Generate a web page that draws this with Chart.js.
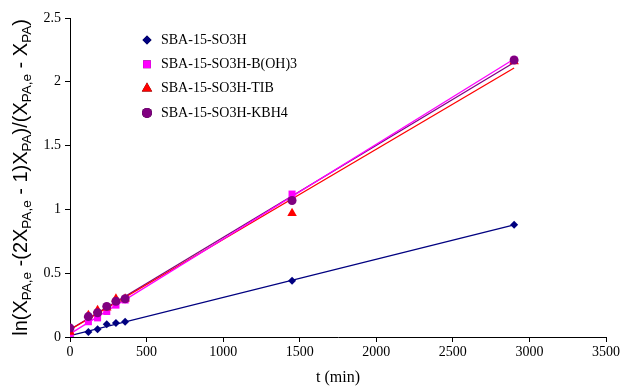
<!DOCTYPE html>
<html>
<head>
<meta charset="utf-8">
<script src="https://cdn.jsdelivr.net/npm/chart.js@4/dist/chart.umd.min.js"></script>
<style>
  body { margin: 0; background: #fff; }
  canvas { display: block; }
</style>
</head>
<body>
<canvas id="kineticsChart" width="624" height="387"></canvas>
<script>
// time points (min)
const times = [0, 120, 180, 240, 300, 360, 1450, 2900];

const seriesNames = ['SBA-15-SO3H', 'SBA-15-SO3H-B(OH)3', 'SBA-15-SO3H-TIB', 'SBA-15-SO3H-KBH4'];
const so3hValues = [0.00, 0.04, 0.06, 0.10, 0.11, 0.12, 0.44, 0.88];
const bohValues = [0.02, 0.12, 0.15, 0.20, 0.25, 0.29, 1.12, 2.17];
const tibValues = [0.04, 0.17, 0.21, 0.23, 0.30, 0.30, 0.97, 2.16];
const kbhValues = [0.07, 0.16, 0.19, 0.24, 0.28, 0.30, 1.07, 2.17];

const xTicks = [0, 500, 1000, 1500, 2000, 2500, 3000, 3500];
const yTicks = [0, 0.5, 1, 1.5, 2, 2.5];

const styles = [
    { color: '#000080', point: 'rectRot', radius: 4, line: '#000080' },
    { color: '#FF00FF', point: 'rect', radius: 5, line: '#FF00FF' },
    { color: '#FF0000', point: 'triangle', radius: 5.5, line: '#FF0000' },
    { color: '#800080', point: 'circle', radius: 4.5, line: '#800080' }
];

const SERIF = '"Liberation Serif", "Times New Roman", serif';
const SANS = '"Liberation Sans", Arial, sans-serif';

// least-squares trendline, like the spreadsheet's linear trendline
function trendline(xs, ys) {
    const n = xs.length;
    const mx = xs.reduce((a, b) => a + b, 0) / n;
    const my = ys.reduce((a, b) => a + b, 0) / n;
    let sxy = 0, sxx = 0;
    xs.forEach((x, i) => {
        sxy += (x - mx) * (ys[i] - my);
        sxx += (x - mx) * (x - mx);
    });
    const slope = sxy / sxx;
    const icpt = my - slope * mx;
    const x0 = xs[0], x1 = xs[n - 1];
    return [{ x: x0, y: icpt + slope * x0 }, { x: x1, y: icpt + slope * x1 }];
}

const allValues = [so3hValues, bohValues, tibValues, kbhValues];

const datasets = [];
allValues.forEach((vals, i) => {
    datasets.push({
        label: seriesNames[i] + ' trend',
        data: trendline(times, vals),
        borderColor: styles[i].line,
        borderWidth: 1.3,
        pointRadius: 0,
        showLine: true,
        order: 10
    });
});
allValues.forEach((vals, i) => {
    datasets.push({
        label: seriesNames[i],
        data: times.map((t, k) => ({ x: t, y: vals[k] })),
        showLine: false,
        pointStyle: styles[i].point,
        pointRadius: styles[i].radius,
        backgroundColor: styles[i].color,
        borderColor: styles[i].color,
        borderWidth: 0,
        order: 4 - i
    });
});

// y axis title with subscripts
const yTitlePlugin = {
    id: 'yTitle',
    afterDraw(chart) {
        const ctx = chart.ctx;
        const parts = [
            ['ln(X', false], ['PA,e', true], [' -(2X', false], ['PA,e', true],
            [' - 1)X', false], ['PA', true], [')/(X', false], ['PA,e', true],
            [' - X', false], ['PA', true], [')', false]
        ];
        const big = '20px ' + SANS, small = '13.5px ' + SANS;
        ctx.save();
        let total = 0;
        parts.forEach(([t, sub]) => {
            ctx.font = sub ? small : big;
            total += ctx.measureText(t).width;
        });
        const area = chart.chartArea;
        ctx.translate(21, (area.top + area.bottom) / 2);
        ctx.rotate(-Math.PI / 2);
        ctx.fillStyle = '#000';
        ctx.textBaseline = 'alphabetic';
        let x = -total / 2;
        parts.forEach(([t, sub]) => {
            ctx.font = sub ? small : big;
            ctx.fillText(t, x, sub ? 10 : 6);
            x += ctx.measureText(t).width;
        });
        ctx.restore();
    }
};

// legend inside the plot area
const legendPlugin = {
    id: 'insideLegend',
    afterDraw(chart) {
        const ctx = chart.ctx;
        ctx.save();
        ctx.font = '14px ' + SERIF;
        ctx.textBaseline = 'middle';
        seriesNames.forEach((name, i) => {
            const y = 40 + i * 24.3;
            const ds = chart.data.datasets[4 + i];
            Chart.helpers.drawPoint(ctx, {
                pointStyle: ds.pointStyle,
                radius: ds.pointRadius + 0.5,
                borderWidth: 0
            }, 147, y);
            ctx.fillStyle = ds.backgroundColor;
            ctx.fill();
            ctx.fillStyle = '#000';
            ctx.fillText(name, 161, y);
        });
        ctx.restore();
    }
};

const axisCommon = {
    type: 'linear',
    border: { display: true, color: '#000', width: 1 },
    grid: { drawOnChartArea: false, drawTicks: true, tickLength: 5, color: '#000' },
    ticks: { color: '#000', font: { family: SERIF, size: 14 }, callback: (v) => String(v) }
};

new Chart(document.getElementById('kineticsChart'), {
    type: 'scatter',
    data: { datasets },
    options: {
        responsive: false,
        animation: false,
        layout: { padding: { top: 18, right: 18, left: 0, bottom: 0 } },
        plugins: { legend: { display: false }, tooltip: { enabled: false } },
        scales: {
            x: {
                ...axisCommon,
                min: 0, max: 3500,
                afterBuildTicks: (s) => { s.ticks = xTicks.map(v => ({ value: v })); },
                ticks: { ...axisCommon.ticks, padding: 2, maxRotation: 0 },
                title: { display: true, text: 't (min)', color: '#000', font: { family: SERIF, size: 16 }, padding: { top: 0, bottom: 0 } },
                afterFit: (s) => { s.height = 50; }
            },
            y: {
                ...axisCommon,
                min: 0, max: 2.5,
                afterBuildTicks: (s) => { s.ticks = yTicks.map(v => ({ value: v })); },
                ticks: { ...axisCommon.ticks, padding: 4 },
                afterFit: (s) => { s.width = 70; }
            }
        }
    },
    plugins: [yTitlePlugin, legendPlugin]
});
</script>
</body>
</html>
